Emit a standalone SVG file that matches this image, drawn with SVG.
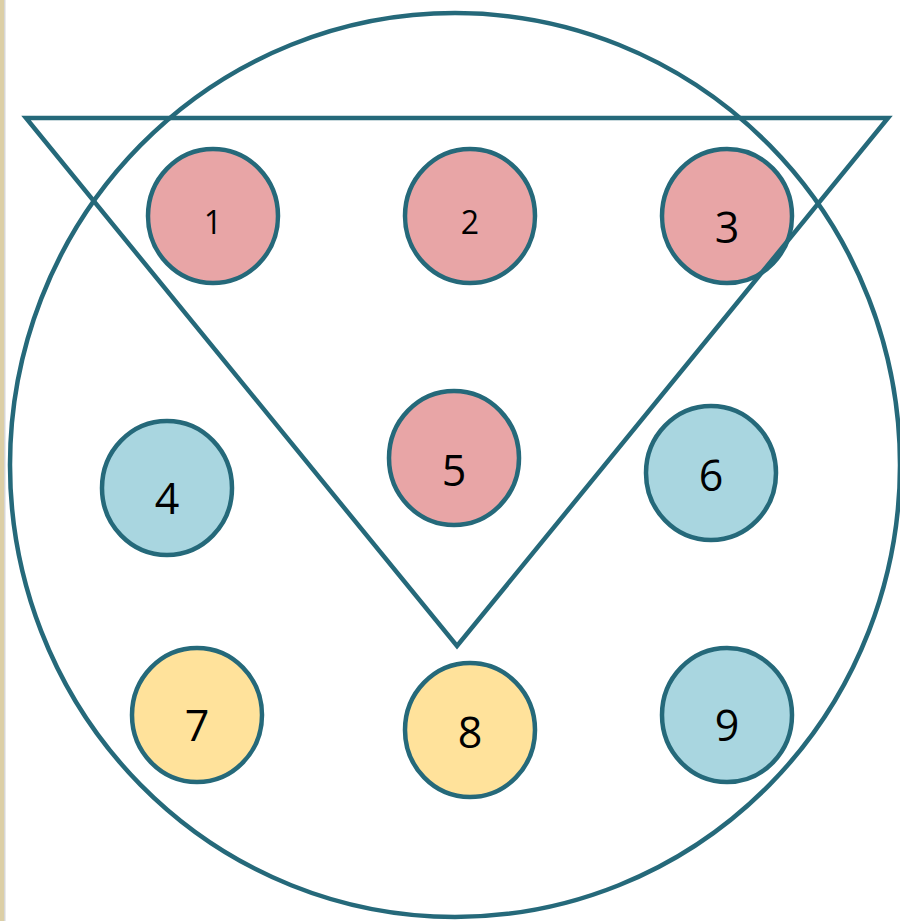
<svg xmlns="http://www.w3.org/2000/svg" width="900" height="921" viewBox="0 0 900 921">
<style>
.n{stroke:#25697a;stroke-width:4.5}
.p{fill:#e8a5a6}.b{fill:#a9d6e0}.y{fill:#ffe29b}
.t{font-family:"Open Sans","Noto Sans",sans-serif;font-size:43px;fill:#000;text-anchor:middle}
.s{fill:none;stroke:#25697a;stroke-width:4.5}
</style>
<rect x="0" y="0" width="900" height="921" fill="#ffffff"/>
<rect x="0" y="0" width="4" height="921" fill="#dccfa6"/>
<rect x="4" y="0" width="1.5" height="921" fill="#d6d6d6"/>
<g id="node1"><ellipse class="n p" cx="213" cy="216" rx="65" ry="67"/><text class="t" x="213" y="234" style="font-size:32px">1</text></g>
<g id="node2"><ellipse class="n p" cx="470" cy="216" rx="65" ry="67"/><text class="t" x="470" y="234" style="font-size:32px">2</text></g>
<g id="node3"><ellipse class="n p" cx="727" cy="216" rx="65" ry="67"/><text class="t" x="727" y="243">3</text></g>
<g id="node4"><ellipse class="n b" cx="167" cy="488" rx="65" ry="67"/><text class="t" x="167" y="514">4</text></g>
<g id="node5"><ellipse class="n p" cx="454" cy="458" rx="65" ry="67"/><text class="t" x="454" y="486">5</text></g>
<g id="node6"><ellipse class="n b" cx="711" cy="473" rx="65" ry="67"/><text class="t" x="711" y="491">6</text></g>
<g id="node7"><ellipse class="n y" cx="197" cy="715" rx="65" ry="67"/><text class="t" x="197" y="741">7</text></g>
<g id="node8"><ellipse class="n y" cx="470" cy="730" rx="65" ry="67"/><text class="t" x="470" y="748">8</text></g>
<g id="node9"><ellipse class="n b" cx="727" cy="715" rx="65" ry="67"/><text class="t" x="727" y="741">9</text></g>
<g id="connectors">
<ellipse class="s" cx="455" cy="465" rx="445" ry="452"/>
<polygon class="s" points="26,118 888,118 457,646"/>
</g>
</svg>
